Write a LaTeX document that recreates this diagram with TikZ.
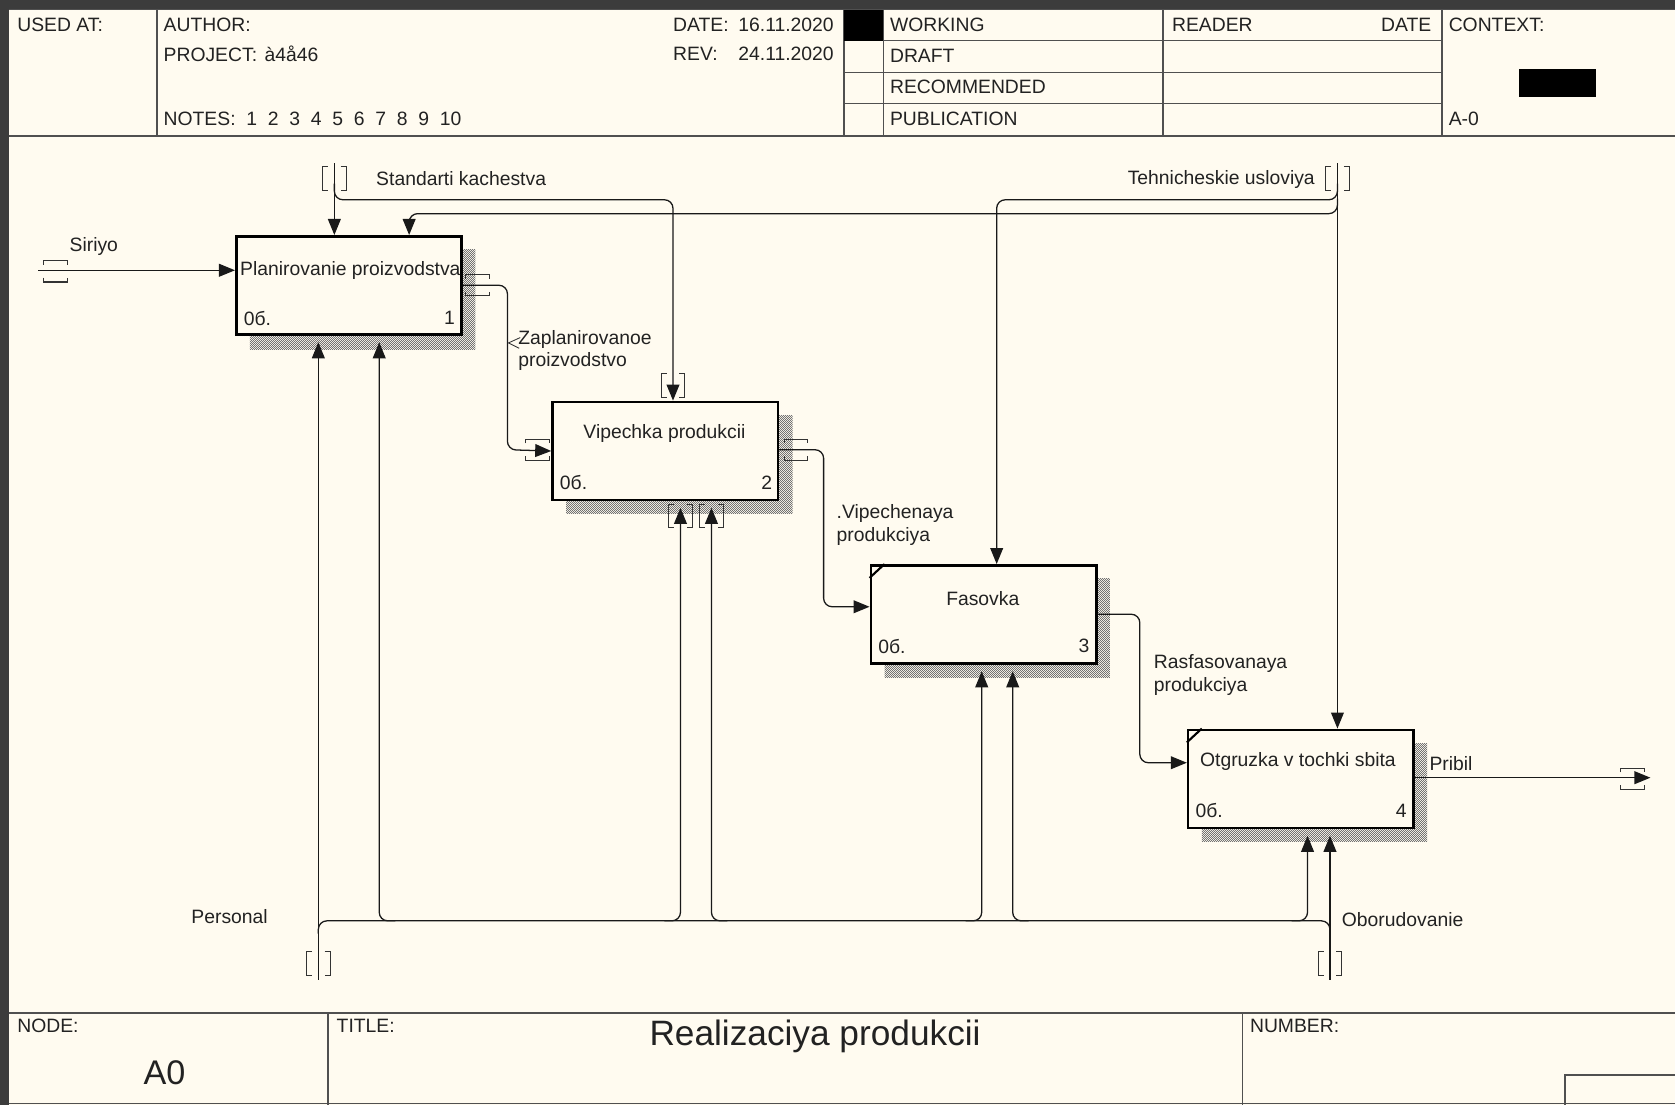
\documentclass[tikz,border=0pt]{standalone}
\usepackage{fontspec}
\setmainfont{Liberation Sans}
\usetikzlibrary{arrows.meta,patterns,calc}
\definecolor{paper}{HTML}{FFFBF0}
\definecolor{frame}{HTML}{3C3C3C}
\definecolor{rulec}{HTML}{505050}
\definecolor{ink}{HTML}{222222}
\pgfdeclarepatternformonly{finecheck}{\pgfqpoint{0pt}{0pt}}{\pgfqpoint{2.2pt}{2.2pt}}{\pgfqpoint{2.2pt}{2.2pt}}{%
  \pgfpathrectangle{\pgfqpoint{0pt}{0pt}}{\pgfqpoint{1.1pt}{1.1pt}}%
  \pgfpathrectangle{\pgfqpoint{1.1pt}{1.1pt}}{\pgfqpoint{1.1pt}{1.1pt}}%
  \pgfusepath{fill}}
\tikzset{
  hline/.style={draw=rulec, line width=1.6pt},
  txt/.style={font=\fontsize{18.1}{21}\selectfont, inner sep=0pt, text=ink, anchor=west},
  txtr/.style={txt, anchor=east},
  txtc/.style={txt, anchor=center},
  box/.style={draw=black, line width=2.4pt, fill=paper, minimum width=211pt, minimum height=92pt, anchor=north west, inner sep=0pt},
  shade/.style={pattern=finecheck, pattern color=black!55},
  conn/.style={draw=black!90, line width=1.2pt, rounded corners=8pt},
  arr/.style={conn, -{Triangle[length=15pt,width=12pt]}},
  tun/.style={draw=black!80, line width=1pt},
  htun/.pic={\draw[tun] (-11,-6) -- (-11,-10) -- (11,-10) -- (11,-6); \draw[tun] (-11,6) -- (-11,10) -- (11,10) -- (11,6);},
  vtun/.pic={\draw[tun] (-6,-11) -- (-11,-11) -- (-11,11) -- (-6,11); \draw[tun] (6,-11) -- (11,-11) -- (11,11) -- (6,11);},
  corner/.style={draw=black, line width=2pt}
}
\begin{document}
\begin{tikzpicture}[x=1pt,y=-1pt]
\useasboundingbox (0,0) rectangle (1568,1034);
\fill[paper] (0,0) rectangle (1568,1034);
\fill[frame] (0,0) rectangle (1568,8);
\fill[frame] (0,0) rectangle (8,1034);
% header
\draw[hline] (8,9) -- (1568,9);
\draw[hline] (8,127) -- (1568,127);
\draw[hline] (147,9) -- (147,127);
\draw[hline] (790,9) -- (790,127);
\draw[hline] (827,9) -- (827,127);
\draw[hline] (1089,9) -- (1089,127);
\draw[hline] (1350,9) -- (1350,127);
\draw[hline] (790,38) -- (1350,38);
\draw[hline] (790,68) -- (1350,68);
\draw[hline] (790,97) -- (1350,97);
\fill[black] (790,9) rectangle (827,38);
\fill[black] (1422,65) rectangle (1494,91);
\node[txt] (usedat) at (16,23) {USED AT:};
\node[txt] (author) at (153,23) {AUTHOR:};
\node[txt] (project) at (153,50) {PROJECT:\hspace{7pt}à4å46};
\node[txt] (notes) at (153,111) {NOTES:~~1~~2~~3~~4~~5~~6~~7~~8~~9~~10};
\node[txt] (datel) at (630,23) {DATE:};
\node[txt] (datev) at (691,23) {16.11.2020};
\node[txt] (revl) at (630,50) {REV:};
\node[txt] (revv) at (691,50) {24.11.2020};
\node[txt] (working) at (833,23) {WORKING};
\node[txt] (draft) at (833,52) {DRAFT};
\node[txt] (recom) at (833,81) {RECOMMENDED};
\node[txt] (publ) at (833,111) {PUBLICATION};
\node[txt] (reader) at (1097,23) {READER};
\node[txtr] (rdate) at (1340,23) {DATE};
\node[txt] (context) at (1356,23) {CONTEXT:};
\node[txt] (aminus) at (1356,111) {A-0};
% footer
\draw[hline] (8,948) -- (1568,948);
\draw[hline] (8,1033) -- (1568,1033);
\draw[hline] (307,948) -- (307,1034);
\draw[hline] (1163,948) -- (1163,1034);
\draw[hline] (1465,1034) -- (1465,1006) -- (1568,1006);
\node[txt] (nodel) at (16,960) {NODE:};
\node[txt] (titlel) at (315,960) {TITLE:};
\node[txt] (numberl) at (1170,960) {NUMBER:};
\node[txtc, font=\fontsize{32}{36}\selectfont] (nodev) at (154,1004) {A0};
\node[txtc, font=\fontsize{33}{38}\selectfont] (titlev) at (763,970) {Realizaciya produkcii};
% shadows
\fill[shade] (234,234) rectangle (445,327);
\fill[shade] (530,389) rectangle (742,481);
\fill[shade] (828,542) rectangle (1039,634);
\fill[shade] (1125,696) rectangle (1336,788);
% boxes
\node[box] (b1) at (220,220) {};
\node[box] (b2) at (516,375) {};
\node[box] (b3) at (814,528) {};
\node[box] (b4) at (1111,682) {};
\draw[corner] ($(b3.north west)+(0,13)$) -- ($(b3.north west)+(14,0)$);
\draw[corner] ($(b4.north west)+(0,13)$) -- ($(b4.north west)+(14,0)$);
\node[txtc] (t1) at (328,253) {Planirovanie proizvodstva};
\node[txtc] (t2) at (622,406) {Vipechka produkcii};
\node[txtc] (t3) at (920,560) {Fasovka};
\node[txtc] (t4) at (1215,713) {Otgruzka v tochki sbita};
\node[txt] (o1) at (228,298) {0б.};
\node[txtr] (n1) at (426,298) {1};
\node[txt] (o2) at (524,452) {0б.};
\node[txtr] (n2) at (723,452) {2};
\node[txt] (o3) at (822,605) {0б.};
\node[txtr] (n3) at (1020,605) {3};
\node[txt] (o4) at (1119,759) {0б.};
\node[txtr] (n4) at (1317,759) {4};
% coordinates of free ends and bends
\coordinate (siS) at (36,253);
\coordinate (skS) at (313,153);
\coordinate (skB) at (313,172);
\coordinate (skC) at (630,187);
\coordinate (tuS) at (1252,153);
\coordinate (tuB1) at (1252,172);
\coordinate (tuC1) at (933,187);
\coordinate (tuB2) at (1252,186);
\coordinate (tuC2) at (383,200);
\coordinate (zpC) at (475,267);
\coordinate (vpC) at (771,421);
\coordinate (rfC) at (1067,575);
\coordinate (prE) at (1545,728);
\coordinate (peS) at (298,917);
\coordinate (obS) at (1245,917);
\coordinate (busL) at (298,862);
\coordinate (busR) at (1245,862);
% inputs / controls
\draw[arr] (siS) -- (siS -| b1.west);
\draw[arr] (skS) -- (skS |- b1.north);
\draw[arr] (skB) -- (skB |- skC) -- (skC) -- (skC |- b2.north);
\draw[arr] (tuS) -- (tuS |- b4.north);
\draw[arr] (tuB1) -- (tuB1 |- tuC1) -- (tuC1) -- (tuC1 |- b3.north);
\draw[arr] (tuB2) -- (tuB2 |- tuC2) -- (tuC2) -- (tuC2 |- b1.north);
% flows between boxes
\draw[arr] (zpC -| b1.east) -- (zpC) -- (zpC |- 0,421) -- (b2.west);
\draw[arr] (vpC -| b2.east) -- (vpC) -- (vpC |- 0,568) -- (b3.west |- 0,568);
\draw[arr] (rfC -| b3.east) -- (rfC) -- (rfC |- 0,714) -- (b4.west |- 0,714);
\draw[arr] (prE -| b4.east) -- (prE);
% mechanisms
\draw[arr] (peS) -- ($(peS |- b1.south)+(0,6)$);
\draw[arr] (obS) -- ($(obS |- b4.south)+(0,6)$);
\draw[conn] ($(busL)+(0,12)$) -- (busL) -- (busR) -- ($(busR)+(0,12)$);
\draw[arr] (370,862) -- (355,862) -- ($(355,0 |- b1.south)+(0,6)$);
\draw[arr] (622,862) -- (637,862) -- ($(637,0 |- b2.south)+(0,6)$);
\draw[arr] (681,862) -- (666,862) -- ($(666,0 |- b2.south)+(0,6)$);
\draw[arr] (904,862) -- (919,862) -- ($(919,0 |- b3.south)+(0,6)$);
\draw[arr] (963,862) -- (948,862) -- ($(948,0 |- b3.south)+(0,6)$);
\draw[arr] (1209,862) -- (1224,862) -- ($(1224,0 |- b4.south)+(0,6)$);
% tunnels
\pic at (52,254) {htun};
\pic at (313,167) {vtun};
\pic at (1252,167) {vtun};
\pic at (447,267) {htun};
\pic at (503,421) {htun};
\pic at (745,421) {htun};
\pic at (630,361) {vtun};
\pic at (637,483) {vtun};
\pic at (666,483) {vtun};
\pic at (1528,729) {htun};
\pic at (298,902) {vtun};
\pic at (1245,902) {vtun};
% arrow labels
\node[txt] (lsi) at (65,231) {Siriyo};
\node[txt] (lsk) at (352,167) {Standarti kachestva};
\node[txtr] (ltu) at (1231,168) {Tehnicheskie usloviya};
\node[txt] (lzp1) at (485,318) {Zaplanirovanoe};
\node[txt] (lzp2) at (485,338) {proizvodstvo};
\draw[draw=black!80, line width=0.8pt] (487,316) -- (476,321) -- (486,326);
\node[txt] (lvp1) at (783,481) {.Vipechenaya};
\node[txt] (lvp2) at (783,502) {produkciya};
\node[txt] (lrf1) at (1080,621) {Rasfasovanaya};
\node[txt] (lrf2) at (1080,643) {produkciya};
\node[txt] (lpr) at (1338,715) {Pribil};
\node[txt] (lpe) at (179,858) {Personal};
\node[txt] (lob) at (1256,861) {Oborudovanie};
\end{tikzpicture}
\end{document}
